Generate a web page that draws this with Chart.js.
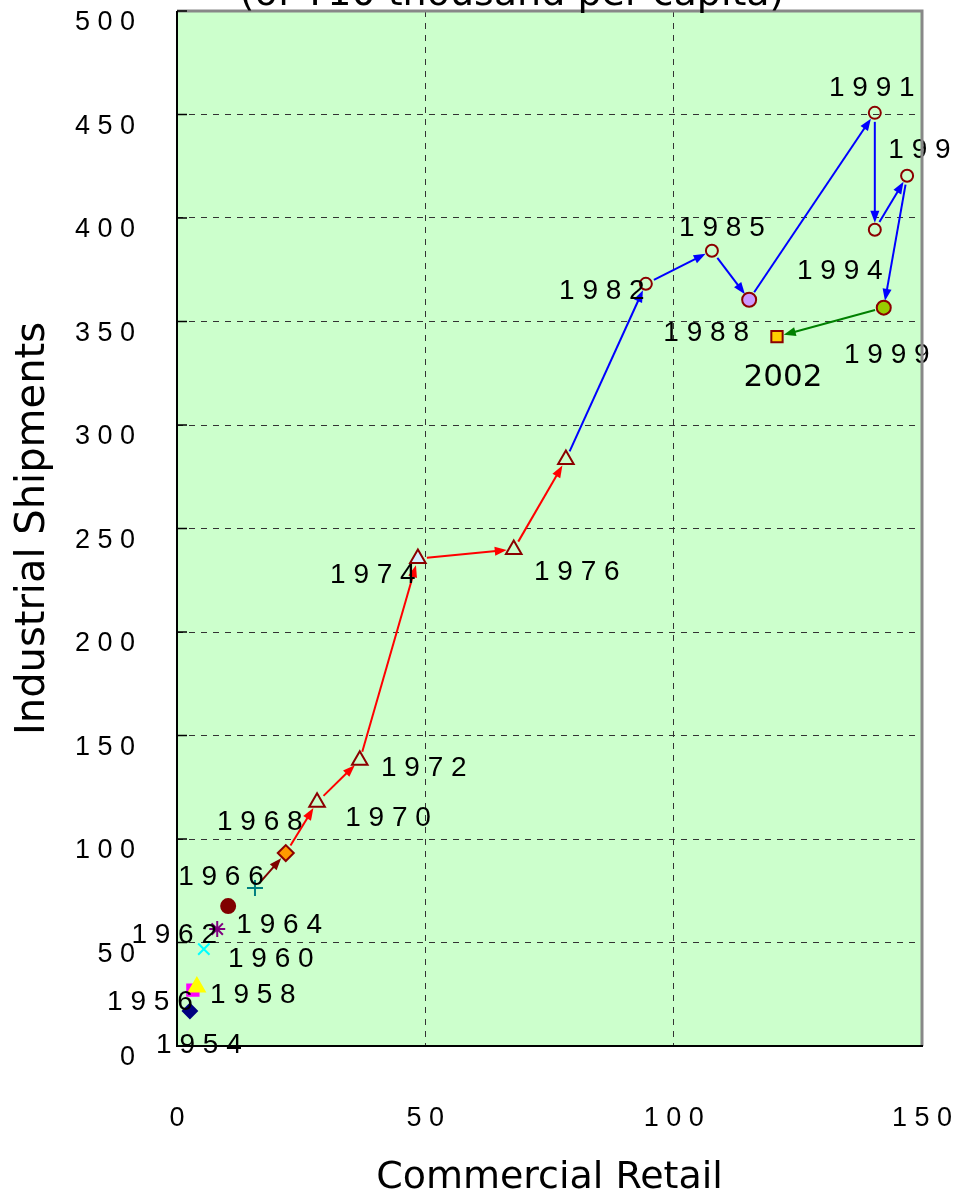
<!DOCTYPE html>
<html>
<head>
<meta charset="utf-8">
<script src="https://cdn.jsdelivr.net/npm/chart.js@4.4.0/dist/chart.umd.min.js"></script>
<style>
  html, body { margin: 0; padding: 0; background: #fff; overflow: hidden; }
  canvas { display: block; }
</style>
</head>
<body>
<canvas id="myScatter" width="957" height="1201"></canvas>
<script>
// data
const years = [1954, 1956, 1958, 1960, 1962, 1964, 1966, 1968, 1970, 1972, 1974,
               1976, 1979, 1982, 1985, 1988, 1991, 1994, 1997, 1999, 2002];
const retail = [2.6, 3.2, 4.0, 5.4, 8.1, 10.3, 15.7, 21.9, 28.2, 36.8, 48.5,
                67.8, 78.3, 94.4, 107.7, 115.2, 140.5, 140.5, 147.0, 142.3, 120.8];
const shipments = [16.9, 27.0, 28.5, 46.8, 56.5, 67.6, 76.3, 93.2, 117.8, 138.0, 235.5,
                   239.9, 283.3, 368.2, 384.2, 360.5, 450.8, 394.3, 420.4, 356.7, 342.7];
const xTicks = [0, 50, 100, 150];
const yTicks = [0, 50, 100, 150, 200, 250, 300, 350, 400, 450, 500];

// marker styles
const DR = '#8b0000';
const pointStyles = ['rectRot', 'rect', 'triangle', 'crossRot', 'star', 'circle', 'cross', 'rectRot',
  'triangle', 'triangle', 'triangle', 'triangle', 'triangle',
  'circle', 'circle', 'circle', 'circle', 'circle', 'circle', 'circle', 'rect'];
const fillColors = ['#000080', '#ff00ff', '#ffff00', '#00ffff', '#800080', '#800000', '#008080', '#ff9900',
  'rgba(0,0,0,0)', 'rgba(0,0,0,0)', '#d4f0ff', 'rgba(0,0,0,0)', 'rgba(0,0,0,0)',
  'rgba(0,0,0,0)', 'rgba(0,0,0,0)', '#cc99ff', 'rgba(0,0,0,0)', 'rgba(0,0,0,0)', 'rgba(0,0,0,0)', '#99cc00', '#ffcc00'];
const edgeColors = ['#000080', '#ff00ff', '#ffff00', '#00ffff', '#800080', '#800000', '#008080', DR,
  DR, DR, DR, DR, DR, DR, DR, DR, DR, DR, DR, DR, DR];
const radii = [7, 8, 9, 8, 8, 7, 8, 8, 9, 9, 9, 9, 9, 6, 6, 7, 6, 6, 6, 7, 8];
// arrow from point i to i+1 (null = no arrow)
const arrowColors = [null, null, null, null, null, null, '#800000', 'red', 'red', 'red', 'red', 'red',
  'blue', 'blue', 'blue', 'blue', 'blue', 'blue', 'blue', 'green'];
// year label offsets from the marker, in px (null = no label)
const labelOffsets = [[9, 34], [-43, 12], [56, 8], [67, 10], [-43, 6], [51, 19], [-34, -11], [-26, -31],
  [71, 16], [64, 8], [-45, 17], [63, 23], null, [-44, 7], [10, -22], [-43, 34], [-3, -25],
  [-35, 41], [24, -25], [3, 48], [6, 41]];

const spaced = s => String(s).split('').join(' ');

const plotBg = {
  id: 'plotBg',
  beforeDraw(chart) {
    const { ctx, chartArea: a } = chart;
    ctx.save();
    ctx.fillStyle = '#fff';
    ctx.fillRect(0, 0, chart.width, chart.height);
    ctx.fillStyle = '#ccffcc';
    ctx.fillRect(a.left, a.top, a.right - a.left, a.bottom - a.top);
    ctx.restore();
  }
};

function drawArrow(ctx, x1, y1, x2, y2, color) {
  const ang = Math.atan2(y2 - y1, x2 - x1);
  const c = Math.cos(ang), s = Math.sin(ang);
  const sx = x1 + c * 9, sy = y1 + s * 9;
  const ex = x2 - c * 7, ey = y2 - s * 7;
  ctx.strokeStyle = color;
  ctx.fillStyle = color;
  ctx.lineWidth = 2;
  ctx.beginPath();
  ctx.moveTo(sx, sy);
  ctx.lineTo(ex - c * 8, ey - s * 8);
  ctx.stroke();
  ctx.beginPath();
  ctx.moveTo(ex, ey);
  ctx.lineTo(ex - c * 12 - s * 4.5, ey - s * 12 + c * 4.5);
  ctx.lineTo(ex - c * 12 + s * 4.5, ey - s * 12 - c * 4.5);
  ctx.closePath();
  ctx.fill();
}

const arrows = {
  id: 'arrows',
  beforeDatasetsDraw(chart) {
    const { ctx, scales: { x, y } } = chart;
    ctx.save();
    for (let i = 0; i < years.length - 1; i++) {
      if (!arrowColors[i]) continue;
      drawArrow(ctx,
        x.getPixelForValue(retail[i]), y.getPixelForValue(shipments[i]),
        x.getPixelForValue(retail[i + 1]), y.getPixelForValue(shipments[i + 1]),
        arrowColors[i]);
    }
    ctx.restore();
  }
};

const yearLabels = {
  id: 'yearLabels',
  afterDatasetsDraw(chart) {
    const { ctx, scales: { x, y } } = chart;
    ctx.save();
    ctx.fillStyle = '#000';
    ctx.textAlign = 'center';
    ctx.textBaseline = 'middle';
    years.forEach((yr, i) => {
      const off = labelOffsets[i];
      if (!off) return;
      const px = x.getPixelForValue(retail[i]) + off[0];
      const py = y.getPixelForValue(shipments[i]) + off[1];
      if (yr === 2002) {
        ctx.font = '31px "DejaVu Sans"';
        ctx.fillText(String(yr), px, py);
      } else {
        ctx.font = '28px "Liberation Sans"';
        ctx.fillText(spaced(yr), px, py);
      }
    });
    ctx.restore();
  }
};

const frame = {
  id: 'frame',
  afterDraw(chart) {
    const { ctx, chartArea: a } = chart;
    ctx.save();
    ctx.strokeStyle = '#888';
    ctx.lineWidth = 3;
    ctx.beginPath();
    ctx.moveTo(a.left, a.top);
    ctx.lineTo(a.right, a.top);
    ctx.lineTo(a.right, a.bottom);
    ctx.stroke();
    ctx.strokeStyle = '#000';
    ctx.lineWidth = 2;
    ctx.beginPath();
    ctx.moveTo(a.left, a.top);
    ctx.lineTo(a.left, a.bottom);
    ctx.lineTo(a.right + 1, a.bottom);
    ctx.stroke();
    // short inward ticks on the left axis
    const y = chart.scales.y;
    ctx.lineWidth = 1.5;
    ctx.beginPath();
    yTicks.forEach(v => {
      const py = y.getPixelForValue(v);
      ctx.moveTo(a.left, py);
      ctx.lineTo(a.left + 10, py);
    });
    ctx.stroke();
    // title, mostly cut off at the top edge
    ctx.fillStyle = '#000';
    ctx.font = '38px "DejaVu Sans"';
    ctx.textAlign = 'center';
    ctx.textBaseline = 'alphabetic';
    ctx.fillText('(of ¥10 thousand per capita)', 512, 5);
    ctx.restore();
  }
};

const ctx = document.getElementById('myScatter').getContext('2d');
const myChart = new Chart(ctx, {
  type: 'scatter',
  data: {
    datasets: [{
      label: 'Industrial vs Retail',
      data: years.map((yr, i) => ({ x: retail[i], y: shipments[i] })),
      pointStyle: pointStyles,
      backgroundColor: fillColors,
      borderColor: edgeColors,
      pointRadius: radii,
      pointBorderWidth: 2,
      showLine: false
    }]
  },
  options: {
    responsive: false,
    animation: false,
    layout: { padding: { left: 0, right: 35, top: 10, bottom: 0 } },
    plugins: {
      legend: { display: false },
      tooltip: { enabled: false }
    },
    scales: {
      x: {
        type: 'linear',
        min: 0,
        max: 150,
        afterBuildTicks: s => { s.ticks = xTicks.map(v => ({ value: v })); },
        afterFit: s => { s.height = 155; s.paddingLeft = 0; s.paddingRight = 0; },
        grid: { color: '#333', lineWidth: 1, drawTicks: false },
        border: { display: false, dash: [6, 6] },
        ticks: {
          padding: 56,
          color: '#000',
          font: { family: 'Liberation Sans', size: 27 },
          maxRotation: 0,
          callback: v => spaced(v)
        },
        title: {
          display: true,
          text: 'Commercial Retail',
          color: '#000',
          font: { family: 'DejaVu Sans', size: 38 },
          padding: { top: 0, bottom: 0 }
        }
      },
      y: {
        type: 'linear',
        min: 0,
        max: 500,
        afterBuildTicks: s => { s.ticks = yTicks.map(v => ({ value: v })); },
        afterFit: s => { s.width = 177; s.paddingTop = 0; s.paddingBottom = 0; },
        grid: { color: '#333', lineWidth: 1, drawTicks: false },
        border: { display: false, dash: [6, 6] },
        ticks: {
          padding: 42,
          labelOffset: 12,
          color: '#000',
          font: { family: 'Liberation Sans', size: 27 },
          callback: v => spaced(v)
        },
        title: {
          display: true,
          text: 'Industrial Shipments',
          color: '#000',
          font: { family: 'DejaVu Sans', size: 40 },
          padding: { top: 10, bottom: 0 }
        }
      }
    }
  },
  plugins: [plotBg, arrows, yearLabels, frame]
});
</script>
</body>
</html>
